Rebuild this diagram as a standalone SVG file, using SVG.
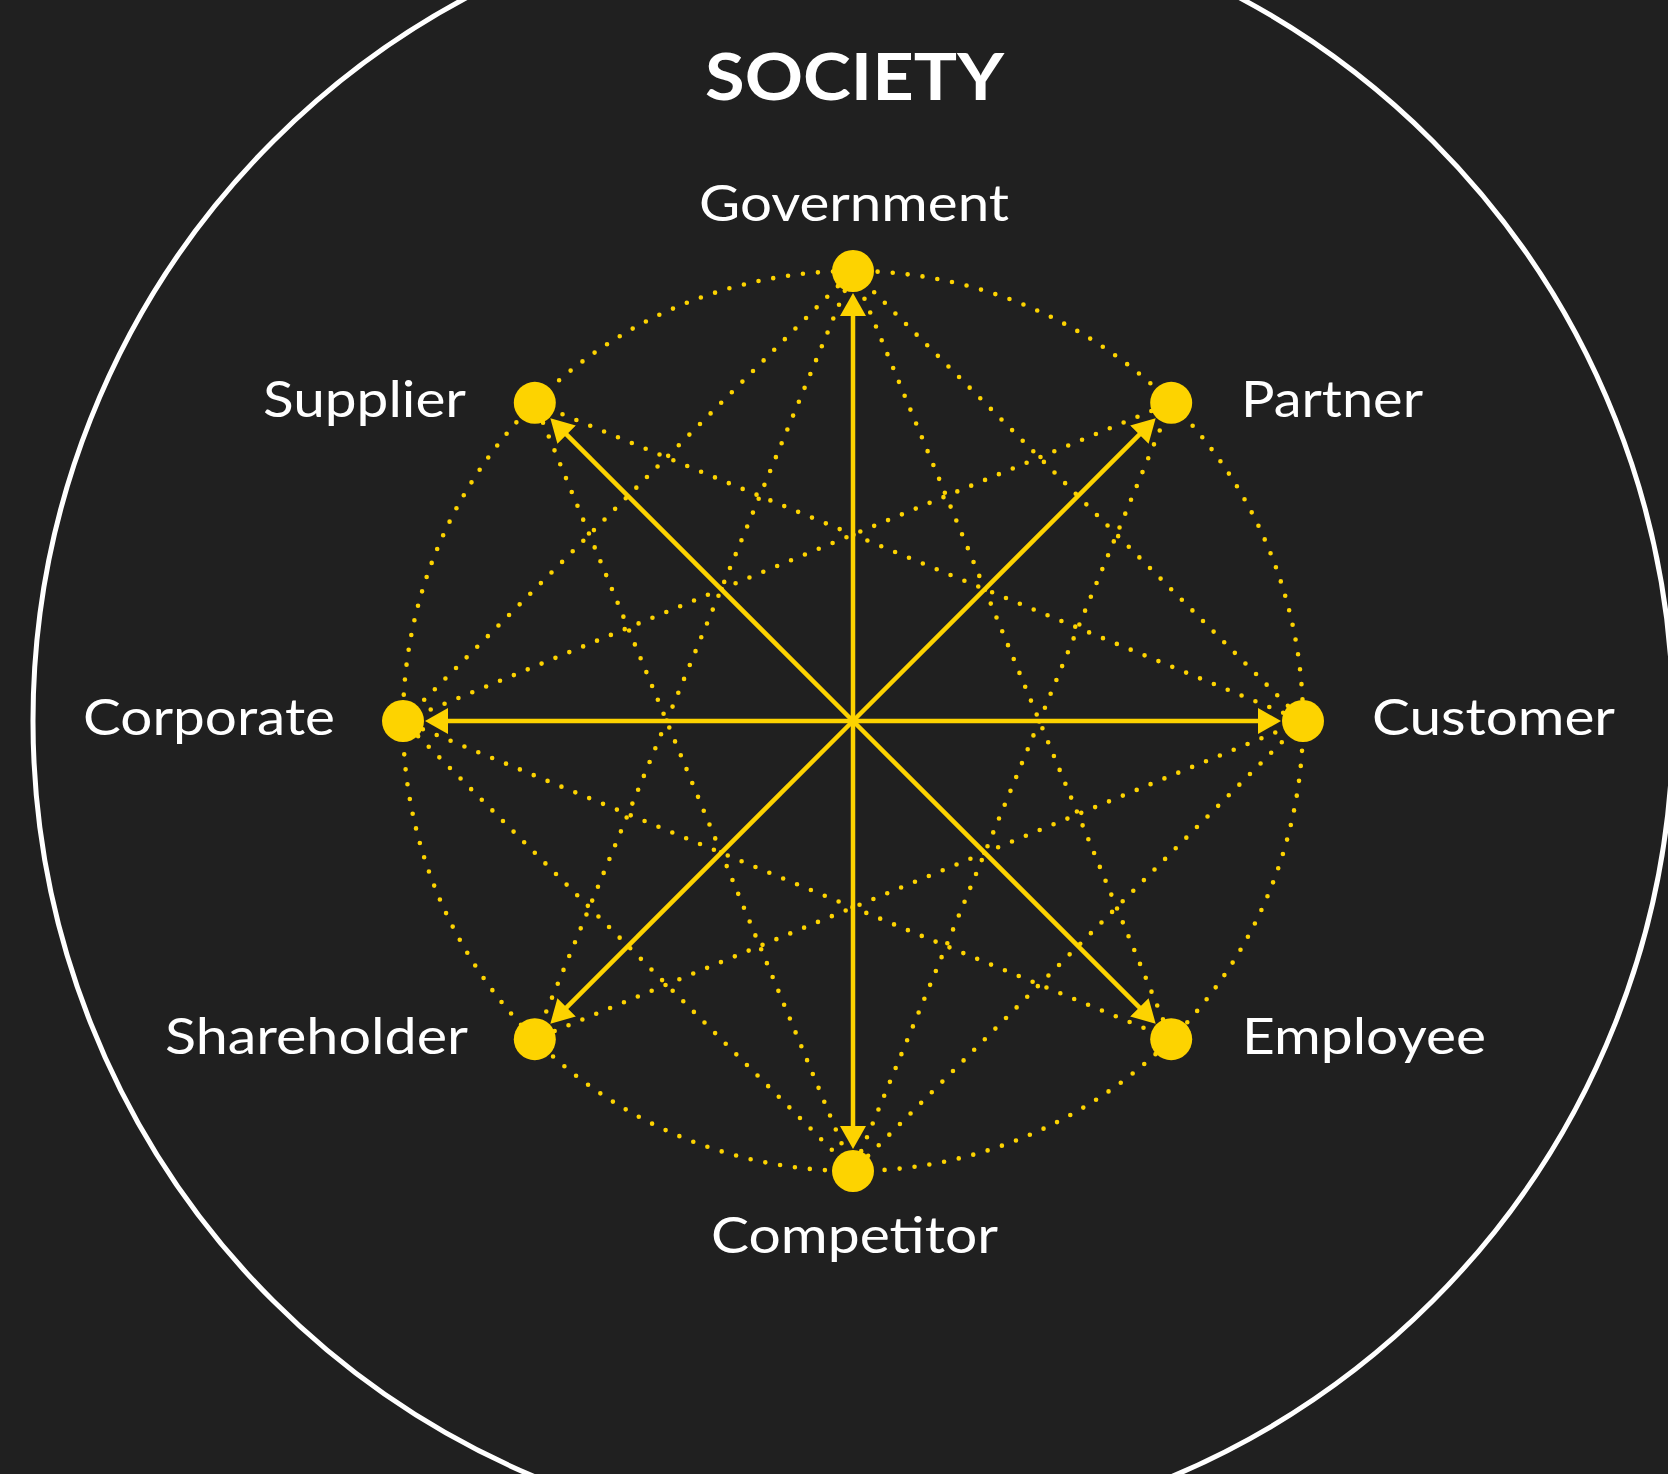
<svg xmlns="http://www.w3.org/2000/svg" width="1668" height="1474" viewBox="0 0 1668 1474">
  <style>
    .bg { fill: #202020; }
    .ring { fill: none; stroke: #ffffff; stroke-width: 5; }
    .dots { fill: none; stroke: #fdd300; stroke-width: 4.6; stroke-linecap: round; stroke-dasharray: 0 15; }
    .arrow { stroke: #fdd300; stroke-width: 4.5; marker-end: url(#head); }
    .node { fill: #fdd300; }
    .label { fill: #ffffff; font-family: Lato, "Noto Sans", "Liberation Sans", sans-serif; font-size: 50px; font-weight: normal; }
    .title { fill: #ffffff; font-family: Lato, "Noto Sans", "Liberation Sans", sans-serif; font-size: 65px; font-weight: bold; }
  </style>
  <defs>
    <marker id="head" viewBox="0 0 23 28" refX="1" refY="14" markerWidth="23" markerHeight="28" markerUnits="userSpaceOnUse" orient="auto">
      <path d="M0,1 L23,14 L0,27 z" fill="#fdd300"/>
    </marker>
  </defs>

  <rect class="bg" x="0" y="0" width="1668" height="1474"/>

  <!-- outer society boundary -->
  <circle class="ring" cx="853" cy="721" r="820"/>
  <text class="title" x="854.5" y="100" text-anchor="middle" textLength="299" lengthAdjust="spacingAndGlyphs">SOCIETY</text>

  <g id="connectors">
    <!-- ring through all stakeholders -->
    <circle class="dots" cx="853" cy="721" r="450"/>
    <!-- square joining the four axis stakeholders -->
    <line class="dots" x1="853" y1="271" x2="1303" y2="721"/>
    <line class="dots" x1="1303" y1="721" x2="853" y2="1171"/>
    <line class="dots" x1="853" y1="1171" x2="403" y2="721"/>
    <line class="dots" x1="403" y1="721" x2="853" y2="271"/>
    <!-- eight-point star chords -->
    <line class="dots" x1="853" y1="271" x2="1171.2" y2="1039.2"/>
    <line class="dots" x1="1171.2" y1="402.8" x2="853" y2="1171"/>
    <line class="dots" x1="1303" y1="721" x2="534.8" y2="1039.2"/>
    <line class="dots" x1="1171.2" y1="1039.2" x2="403" y2="721"/>
    <line class="dots" x1="853" y1="1171" x2="534.8" y2="402.8"/>
    <line class="dots" x1="534.8" y1="1039.2" x2="853" y2="271"/>
    <line class="dots" x1="403" y1="721" x2="1171.2" y2="402.8"/>
    <line class="dots" x1="534.8" y1="402.8" x2="1303" y2="721"/>
    <!-- arrows from the centre out to each stakeholder -->
    <line class="arrow" x1="853" y1="721" x2="853" y2="315"/>
    <line class="arrow" x1="853" y1="721" x2="1140.1" y2="433.9"/>
    <line class="arrow" x1="853" y1="721" x2="1259" y2="721"/>
    <line class="arrow" x1="853" y1="721" x2="1140.1" y2="1008.1"/>
    <line class="arrow" x1="853" y1="721" x2="853" y2="1127"/>
    <line class="arrow" x1="853" y1="721" x2="565.9" y2="1008.1"/>
    <line class="arrow" x1="853" y1="721" x2="447" y2="721"/>
    <line class="arrow" x1="853" y1="721" x2="565.9" y2="433.9"/>
  </g>

  <g id="government">
    <circle class="node" cx="853" cy="271" r="21"/>
    <text class="label" x="854" y="221" text-anchor="middle" textLength="310" lengthAdjust="spacingAndGlyphs">Government</text>
  </g>
  <g id="partner">
    <circle class="node" cx="1171.2" cy="402.8" r="21"/>
    <text class="label" x="1241" y="417" textLength="182" lengthAdjust="spacingAndGlyphs">Partner</text>
  </g>
  <g id="customer">
    <circle class="node" cx="1303" cy="721" r="21"/>
    <text class="label" x="1372" y="735" textLength="243" lengthAdjust="spacingAndGlyphs">Customer</text>
  </g>
  <g id="employee">
    <circle class="node" cx="1171.2" cy="1039.2" r="21"/>
    <text class="label" x="1242" y="1054" textLength="244" lengthAdjust="spacingAndGlyphs">Employee</text>
  </g>
  <g id="competitor">
    <circle class="node" cx="853" cy="1171" r="21"/>
    <text class="label" x="854.5" y="1253" text-anchor="middle" textLength="287" lengthAdjust="spacingAndGlyphs">Competitor</text>
  </g>
  <g id="shareholder">
    <circle class="node" cx="534.8" cy="1039.2" r="21"/>
    <text class="label" x="468" y="1054" text-anchor="end" textLength="303" lengthAdjust="spacingAndGlyphs">Shareholder</text>
  </g>
  <g id="corporate">
    <circle class="node" cx="403" cy="721" r="21"/>
    <text class="label" x="83" y="735" textLength="252" lengthAdjust="spacingAndGlyphs">Corporate</text>
  </g>
  <g id="supplier">
    <circle class="node" cx="534.8" cy="402.8" r="21"/>
    <text class="label" x="466" y="417" text-anchor="end" textLength="203" lengthAdjust="spacingAndGlyphs">Supplier</text>
  </g>
</svg>
